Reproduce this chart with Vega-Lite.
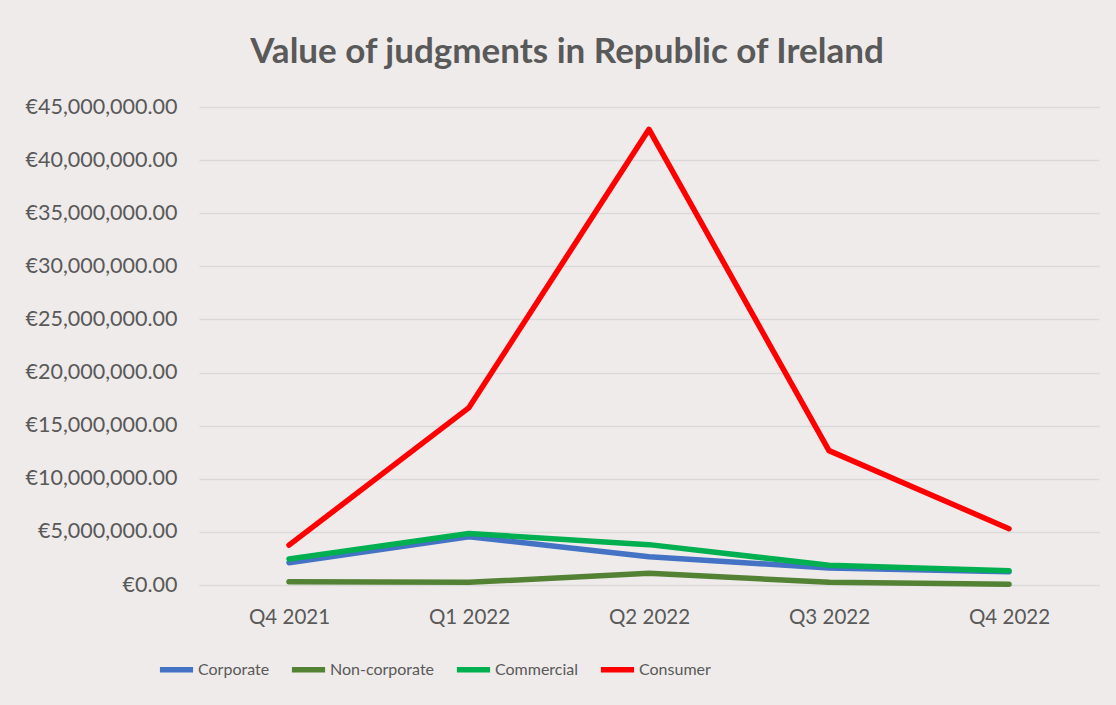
{
  "$schema": "https://vega.github.io/schema/vega-lite/v6.json",
  "width": 900,
  "height": 478,
  "autosize": {"type": "none"},
  "padding": {"left": 199, "top": 107, "right": 17, "bottom": 120},
  "background": "#EFEBEA",
  "title": {
    "text": "Value of judgments in Republic of Ireland",
    "font": "Lato",
    "fontSize": 35,
    "fontWeight": "bold",
    "color": "#595959",
    "anchor": "middle",
    "frame": "group",
    "dx": -82,
    "baseline": "alphabetic",
    "offset": -2
  },
  "data": {
    "values": [
      {"quarter": "Q4 2021", "series": "Corporate", "value": 2100000},
      {"quarter": "Q1 2022", "series": "Corporate", "value": 4550000},
      {"quarter": "Q2 2022", "series": "Corporate", "value": 2650000},
      {"quarter": "Q3 2022", "series": "Corporate", "value": 1600000},
      {"quarter": "Q4 2022", "series": "Corporate", "value": 1250000},
      {"quarter": "Q4 2021", "series": "Non-corporate", "value": 300000},
      {"quarter": "Q1 2022", "series": "Non-corporate", "value": 250000},
      {"quarter": "Q2 2022", "series": "Non-corporate", "value": 1100000},
      {"quarter": "Q3 2022", "series": "Non-corporate", "value": 250000},
      {"quarter": "Q4 2022", "series": "Non-corporate", "value": 80000},
      {"quarter": "Q4 2021", "series": "Commercial", "value": 2450000},
      {"quarter": "Q1 2022", "series": "Commercial", "value": 4850000},
      {"quarter": "Q2 2022", "series": "Commercial", "value": 3800000},
      {"quarter": "Q3 2022", "series": "Commercial", "value": 1850000},
      {"quarter": "Q4 2022", "series": "Commercial", "value": 1350000},
      {"quarter": "Q4 2021", "series": "Consumer", "value": 3750000},
      {"quarter": "Q1 2022", "series": "Consumer", "value": 16700000},
      {"quarter": "Q2 2022", "series": "Consumer", "value": 42900000},
      {"quarter": "Q3 2022", "series": "Consumer", "value": 12650000},
      {"quarter": "Q4 2022", "series": "Consumer", "value": 5300000}
    ]
  },
  "mark": {"type": "line", "strokeWidth": 5.5, "strokeCap": "round", "strokeJoin": "round"},
  "encoding": {
    "x": {
      "field": "quarter",
      "type": "ordinal",
      "sort": ["Q4 2021", "Q1 2022", "Q2 2022", "Q3 2022", "Q4 2022"],
      "scale": {"type": "point", "padding": 0.5},
      "axis": {
        "title": null,
        "labelAngle": 0,
        "labelFont": "Lato",
        "labelFontSize": 20.5,
        "labelColor": "#595959",
        "labelPadding": 22,
        "ticks": false,
        "domain": false,
        "grid": false
      }
    },
    "y": {
      "field": "value",
      "type": "quantitative",
      "scale": {"domain": [0, 45000000], "nice": false},
      "axis": {
        "title": null,
        "format": ",.2f",
        "labelExpr": "'€' + datum.label",
        "values": [0, 5000000, 10000000, 15000000, 20000000, 25000000, 30000000, 35000000, 40000000, 45000000],
        "labelFont": "Lato",
        "labelFontSize": 21.5,
        "labelColor": "#595959",
        "labelPadding": 22,
        "ticks": false,
        "domain": false,
        "grid": true,
        "gridColor": "#D9D9D9",
        "gridWidth": 1.5
      }
    },
    "color": {
      "field": "series",
      "type": "nominal",
      "sort": ["Corporate", "Non-corporate", "Commercial", "Consumer"],
      "scale": {
        "domain": ["Corporate", "Non-corporate", "Commercial", "Consumer"],
        "range": ["#4472C4", "#548235", "#00B050", "#FF0000"]
      },
      "legend": {
        "title": null,
        "orient": "none",
        "legendX": -42,
        "legendY": 543,
        "direction": "horizontal",
        "symbolType": "stroke",
        "symbolStrokeWidth": 5.5,
        "symbolSize": 1100,
        "labelFont": "Lato",
        "labelFontSize": 16,
        "labelColor": "#595959",
        "labelOffset": 2,
        "columnPadding": 10
      }
    }
  },
  "config": {
    "view": {"stroke": null}
  }
}
